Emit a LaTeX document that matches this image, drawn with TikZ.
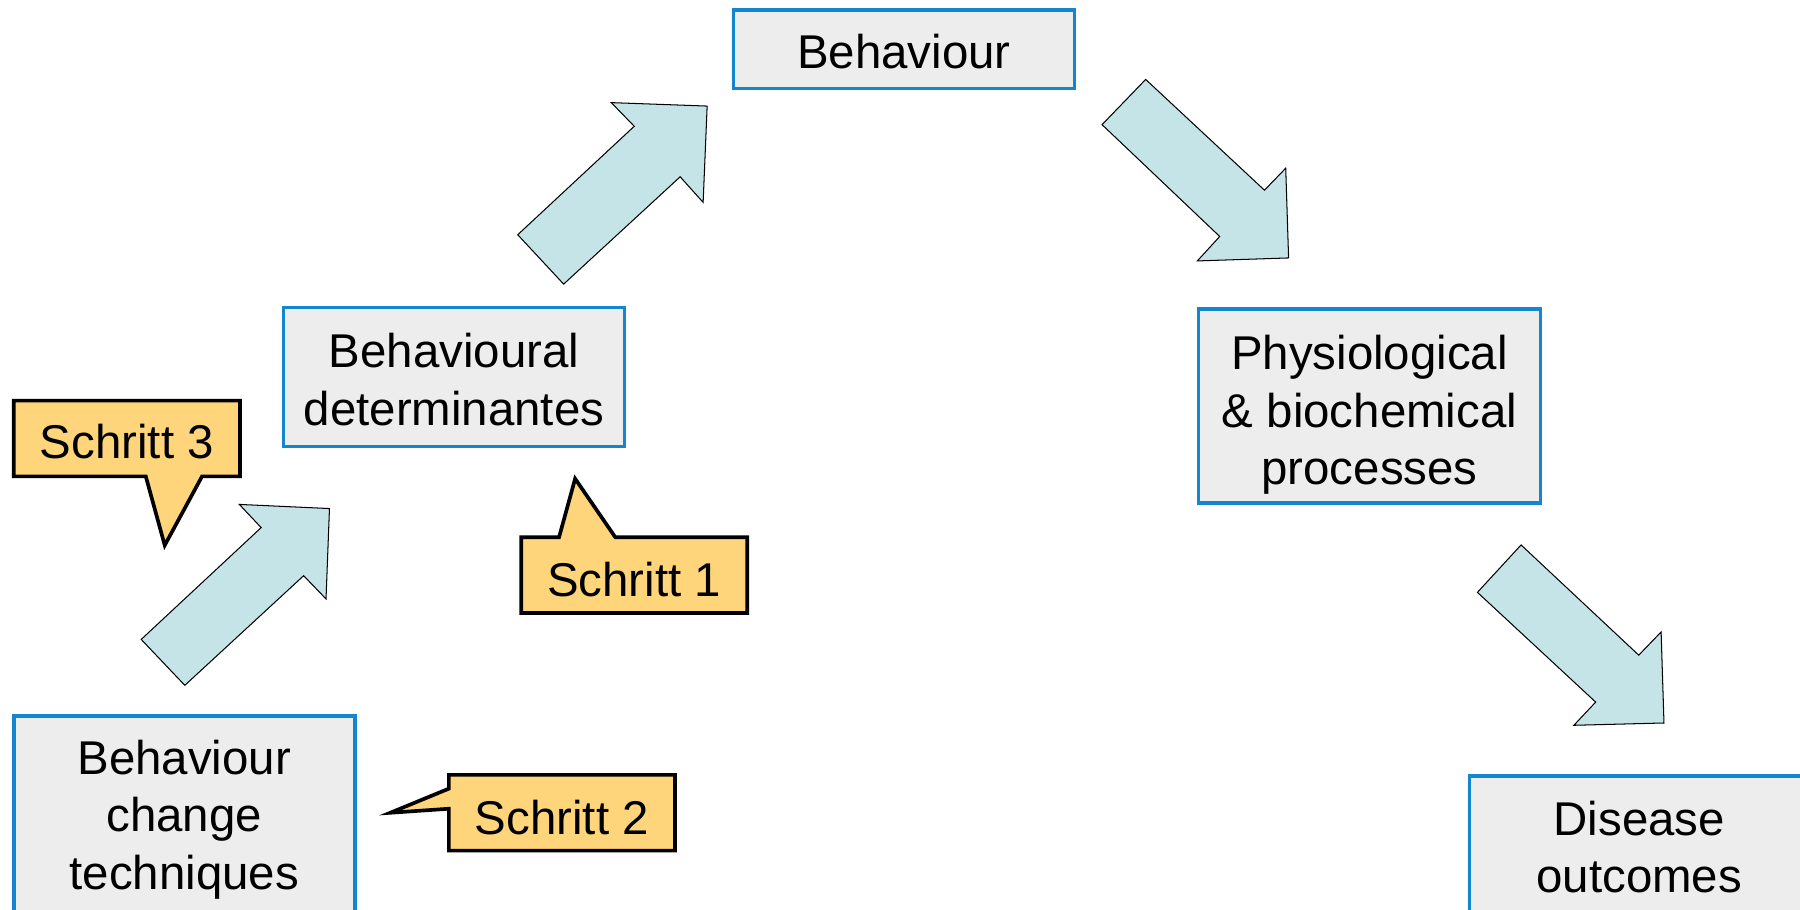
\documentclass[tikz,border=0pt]{standalone}
\usepackage{fontspec}
\setmainfont{Liberation Sans}
\definecolor{boxblue}{RGB}{20,134,208}
\definecolor{boxgray}{RGB}{237,237,237}
\definecolor{arrowfill}{RGB}{197,228,231}
\definecolor{calloutfill}{RGB}{254,213,122}
\tikzset{
  stage/.style={draw=boxblue, fill=boxgray, line width=1.6pt, inner sep=0pt},
  stagetext/.style={align=center, inner sep=0pt, font=\fontsize{20.65pt}{25pt}\selectfont},
  blockarrow/.style={draw=black, fill=arrowfill, line width=0.45pt, line join=miter},
  callout/.style={draw=black, fill=calloutfill, line width=1.6pt, line join=miter},
  callouttext/.style={inner sep=0pt, font=\fontsize{20.65pt}{25pt}\selectfont},
}
\begin{document}
\begin{tikzpicture}[x=0.5pt, y=-0.5pt]
\useasboundingbox (0,0) rectangle (1568,792);
\clip (0,0) rectangle (1568,792);
% stage boxes
\node[stage, minimum width=148.5pt, minimum height=34pt] (beh) at (787.5,43) {};
\node[stagetext] (behtext) at (787.5,45) {Behaviour};
\node[stage, minimum width=148.5pt, minimum height=60.5pt] (bd) at (395.5,328.5) {};
\node[stagetext] (bdtext) at (395.5,330.5) {Behavioural\\determinantes};
\node[stage, minimum width=149pt, minimum height=84.5pt] (phys) at (1193,353.5) {};
\node[stagetext] (phystext) at (1193,361.5) {Physiological\\\& biochemical\\processes};
\node[stage, minimum width=148.5pt, minimum height=86pt] (bct) at (160.5,710) {};
\node[stagetext] (bcttext) at (160.5,714) {Behaviour\\change\\techniques};
\node[stage, minimum width=148pt, minimum height=62pt] (dis) at (1428,738) {};
\node[stagetext] (distext) at (1428,738) {Disease\\outcomes};
% block arrows
\draw[blockarrow] (123,557) -- (227.5,459.6) -- (208.5,439.4) -- (287,443) -- (284,521.7) -- (264.5,501.5) -- (161,597) -- cycle;
\draw[blockarrow] (451,204.5) -- (552.5,110) -- (532.5,89.4) -- (616,92.4) -- (612.5,176.3) -- (592.5,154) -- (491,247.5) -- cycle;
\draw[blockarrow] (998,69.2) -- (1101.5,165.7) -- (1120,146.5) -- (1122.5,224.7) -- (1043,227.3) -- (1062.5,206) -- (960,108.6) -- cycle;
\draw[blockarrow] (1325,474.7) -- (1427.5,570.7) -- (1447,550.5) -- (1449.5,629.8) -- (1371,631.8) -- (1390,611.6) -- (1287,516) -- cycle;
% callouts
\draw[callout] (12,349) -- (209,349) -- (209,415) -- (176,415) -- (143.5,475) -- (127,415) -- (12,415) -- cycle;
\node[callouttext] (s3) at (110.5,385) {Schritt 3};
\draw[callout] (454,468) -- (487,468) -- (501,417) -- (536,468) -- (651,468) -- (651,534) -- (454,534) -- cycle;
\node[callouttext] (s1) at (552.5,505) {Schritt 1};
\draw[callout] (391,675) -- (588,675) -- (588,741) -- (391,741) -- (391,704.5) -- (340,708) -- (391,687) -- cycle;
\node[callouttext] (s2) at (489.5,712) {Schritt 2};
\end{tikzpicture}
\end{document}
